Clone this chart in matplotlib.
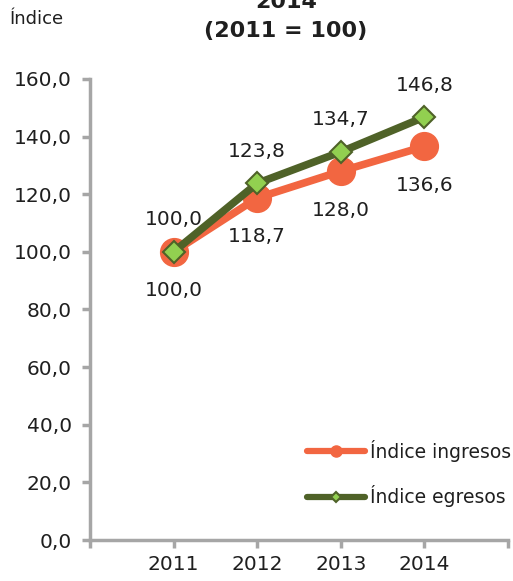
import matplotlib
matplotlib.use("Agg")
import matplotlib.pyplot as plt

years = [2011, 2012, 2013, 2014]
ingresos = [100.0, 118.7, 128.0, 136.6]
egresos = [100.0, 123.8, 134.7, 146.8]
yticks = [0, 20, 40, 60, 80, 100, 120, 140, 160]

def fmt(v):
    return f"{v:.1f}".replace(".", ",")

plt.rcParams['font.family'] = ['Verdana', 'DejaVu Sans']

fig = plt.figure(figsize=(5.13, 5.81), dpi=100)
ax = fig.add_axes([90/513, 1-540/581, 418/513, 461/581])

orange = '#F26641'
dgreen = '#4F6228'
lgreen = '#92D050'
txt = '#1f1f1f'

ax.plot(years, ingresos, color=orange, lw=5.5, marker='o', ms=20,
        mfc=orange, mec=orange, label='Índice ingresos', zorder=2,
        solid_capstyle='round')
ax.plot(years, egresos, color=dgreen, lw=5.5, marker='D', ms=11.5,
        mfc=lgreen, mec=dgreen, mew=1.5, label='Índice egresos', zorder=3,
        solid_capstyle='round')

# labels under ingresos, above egresos
for x, v in zip(years, ingresos):
    ax.annotate(fmt(v), (x, v), xytext=(0, -39), textcoords='offset pixels',
                ha='center', va='center', fontsize=14.5, color=txt)
for x, v in zip(years, egresos):
    ax.annotate(fmt(v), (x, v), xytext=(0, 32), textcoords='offset pixels',
                ha='center', va='center', fontsize=14.5, color=txt)

ax.set_xlim(2010, 2015)
ax.set_ylim(0, 160)
ax.set_yticks(yticks)
ax.set_yticklabels([fmt(t) for t in yticks], fontsize=14.5, color=txt)
ax.set_xticks([2010, 2011, 2012, 2013, 2014, 2015])
ax.set_xticklabels(['', '2011', '2012', '2013', '2014', ''], fontsize=14.5,
                   color=txt)
ax.tick_params(axis='both', color='#A6A6A6', width=2.5, length=6)
ax.tick_params(axis='x', pad=5)
ax.tick_params(axis='y', pad=7)
for s in ['top', 'right']:
    ax.spines[s].set_visible(False)
for s in ['left', 'bottom']:
    ax.spines[s].set_color('#A6A6A6')
    ax.spines[s].set_linewidth(2.5)

leg = ax.legend(loc='upper left', bbox_to_anchor=(307/513, 1-440/581),
                bbox_transform=fig.transFigure, frameon=False,
                fontsize=13.5, handlelength=3.1, handletextpad=0.25,
                labelspacing=1.25, borderaxespad=0, borderpad=0,
                markerscale=0.4)
for t in leg.get_texts():
    t.set_color(txt)
for h in leg.legend_handles:
    h.set_linewidth(4.5)

fig.text(10/513, 1-19/581, 'Índice', fontsize=13, va='center', ha='left',
         color=txt)
fig.text(286/513, 1-2/581, '2014', fontsize=16, fontweight='bold',
         va='center', ha='center', color=txt)
fig.text(286/513, 1-31/581, '(2011 = 100)', fontsize=16, fontweight='bold',
         va='center', ha='center', color=txt)

fig.savefig('out.png', dpi=100)
